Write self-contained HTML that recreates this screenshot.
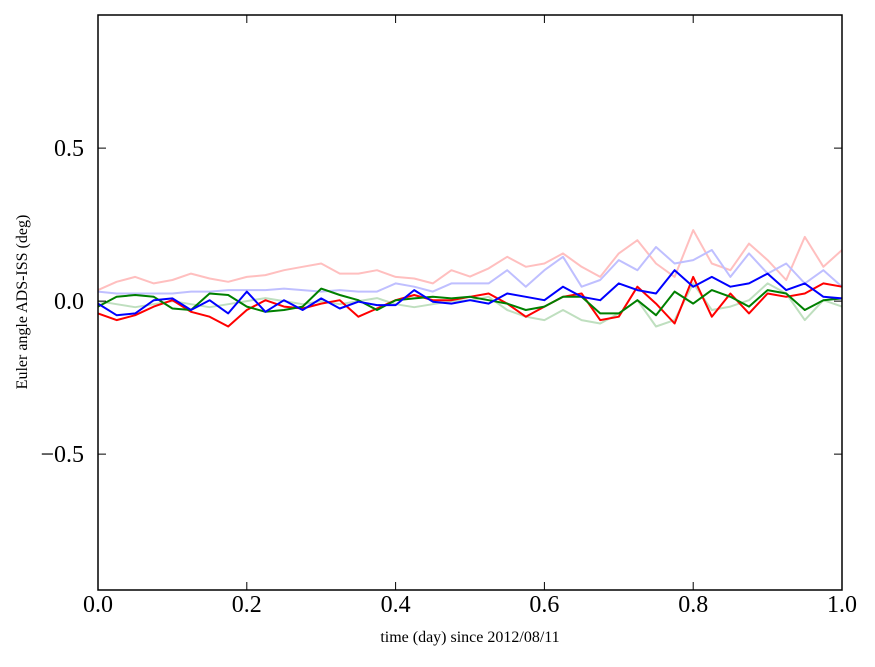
<!DOCTYPE html>
<html><head><meta charset="utf-8"><style>
body{margin:0;background:#fff;}
svg text{font-family:"Liberation Serif",serif;}
</style></head><body>
<svg id="chart" width="875" height="662" xmlns="http://www.w3.org/2000/svg">
<rect width="875" height="662" fill="#fff"/>
<g id="series"></g>
<rect x="98" y="15" width="744" height="575" fill="none" stroke="#000" stroke-width="1.5"/>
<g id="ticks"></g>
<text x="470" y="642" font-size="16" text-anchor="middle">time (day) since 2012/08/11</text>
<text transform="translate(27,302) rotate(-90)" font-size="16" text-anchor="middle">Euler angle ADS-ISS (deg)</text>
</svg>
<script>
const xTicks=[0,0.2,0.4,0.6,0.8,1.0];
const xTickLabels=["0.0","0.2","0.4","0.6","0.8","1.0"];
const yTicks=[-0.5,0,0.5];
const yTickLabels=["\u22120.5","0.0","0.5"];
const pinkSeries=[.036,.063,.079,.058,.069,.090,.074,.063,.079,.085,.101,.112,.123,.090,.090,.101,.079,.074,.058,.101,.08,.107,.145,.112,.123,.156,.112,.079,.156,.199,.123,.079,.232,.123,.101,.188,.134,.069,.210,.112,.167];
const lightBlueSeries=[.031,.025,.025,.025,.025,.031,.031,.036,.036,.036,.041,.036,.031,.036,.031,.031,.058,.047,.031,.058,.058,.058,.101,.047,.101,.145,.047,.069,.134,.101,.177,.123,.134,.167,.079,.156,.090,.123,.058,.101,.047];
const lightGreenSeries=[0,-.01,-.02,-.01,0,-.01,-.02,-.01,0,.01,0,-.01,0,-.01,0,.01,-.01,-.02,-.01,0,.003,.014,-.029,-.051,-.062,-.029,-.062,-.073,-.040,.003,-.083,-.062,.058,-.029,-.018,.003,.058,.025,-.062,.003,-.018];
const redSeries=[-.040,-.062,-.046,-.018,.003,-.035,-.051,-.083,-.029,.003,-.018,-.024,-.008,.003,-.051,-.024,.003,.020,.003,.003,.014,.025,-.008,-.051,-.018,.014,.025,-.062,-.051,.047,-.008,-.073,.079,-.051,.025,-.040,.025,.014,.025,.058,.047];
const greenSeries=[-.018,.014,.020,.014,-.024,-.029,.025,.020,-.018,-.035,-.029,-.018,.041,.020,.003,-.029,.003,.009,.014,.009,.014,.003,-.008,-.029,-.018,.014,.014,-.040,-.040,.003,-.046,.031,-.008,.036,.014,-.018,.036,.025,-.029,.003,.009];
const blueSeries=[-.008,-.046,-.040,.003,.009,-.029,.003,-.040,.031,-.035,.003,-.029,.009,-.024,-.002,-.013,-.013,.036,-.002,-.008,.003,-.008,.025,.014,.003,.047,.014,.003,.058,.036,.025,.101,.047,.079,.047,.058,.090,.036,.058,.014,.009];

const NS="http://www.w3.org/2000/svg";
const X0=98,X1=842,Y0=15,Y1=590,YMIN=-0.944,YMAX=0.935;
function sx(v){return X0+(v-0)/(1-0)*(X1-X0);}
function sy(v){return Y1-(v-YMIN)/(YMAX-YMIN)*(Y1-Y0);}
const g=document.getElementById('series');
function draw(arr,color,name){
  const n=arr.length;
  const pts=arr.map((v,i)=>sx(i/(n-1)).toFixed(1)+","+sy(v).toFixed(1)).join(" ");
  const p=document.createElementNS(NS,'polyline');
  p.setAttribute('points',pts);p.setAttribute('fill','none');
  p.setAttribute('stroke',color);p.setAttribute('stroke-width','2');
  p.setAttribute('stroke-linejoin','round');
  
  
  g.appendChild(p);
}
draw(pinkSeries,'#ffbfbf','series-light-red');
draw(lightBlueSeries,'#bfbfff','series-light-blue');
draw(lightGreenSeries,'#bfdfbf','series-light-green');
draw(redSeries,'#ff0000','series-red');
draw(greenSeries,'#008000','series-green');
draw(blueSeries,'#0000ff','series-blue');
const t=document.getElementById('ticks');
function mk(tag,attrs){const e=document.createElementNS(NS,tag);for(const k in attrs)e.setAttribute(k,attrs[k]);t.appendChild(e);return e;}
xTicks.forEach((v,i)=>{
  const x=sx(v);
  const a=mk('line',{x1:x,x2:x,y1:Y1,y2:Y1-8,stroke:'#000'});
  
  
  const b=mk('line',{x1:x,x2:x,y1:Y0,y2:Y0+8,stroke:'#000'});
  
  
  const l=mk('text',{x:x,y:612,'font-size':'24','text-anchor':'middle'});
  l.textContent=xTickLabels[i];
  
  
});
yTicks.forEach((v,i)=>{
  const y=sy(v);
  const a=mk('line',{x1:X0,x2:X0+8,y1:y,y2:y,stroke:'#000'});
  
  
  const b=mk('line',{x1:X1,x2:X1-8,y1:y,y2:y,stroke:'#000'});
  
  
  const l=mk('text',{x:84,y:y+8,'font-size':'24','text-anchor':'end'});
  l.textContent=yTickLabels[i];
  
  
});
</script>
</body></html>
